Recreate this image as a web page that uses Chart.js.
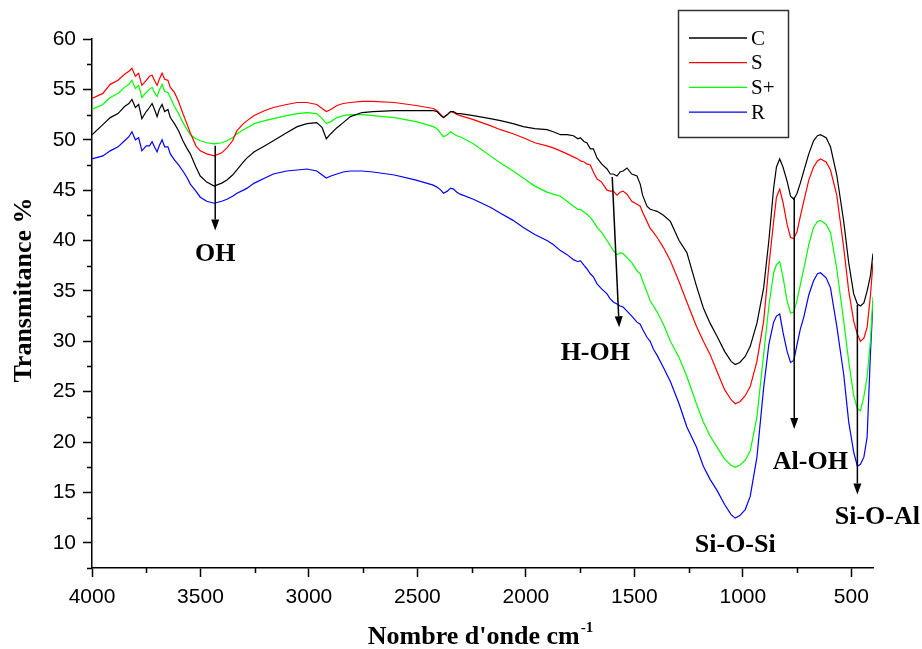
<!DOCTYPE html>
<html><head><meta charset="utf-8">
<script src="https://cdn.jsdelivr.net/npm/chart.js@4.4.0/dist/chart.umd.min.js"></script>
<style>html,body{margin:0;padding:0;background:#fff;}#wrap{width:922px;height:649px;}</style>
</head><body><div id="wrap"><canvas id="c" width="922" height="649"></canvas></div>
<script>
// ---- data ----
const wavenumbers = [4000,3950,3916,3880,3850,3830,3816,3800,3785,3770,3750,3735,3723,3710,3700,3690,3677,3665,3650,3639,3620,3601,3581,3561,3547,3521,3501,3471,3437,3402,3378,3352,3332,3302,3285,3252,3203,3164,3103,3054,3009,2964,2939,2920,2899,2871,2842,2809,2755,2705,2606,2506,2427,2410,2392,2380,2362,2347,2334,2318,2303,2242,2164,2117,2059,2012,1959,1903,1874,1841,1810,1781,1760,1749,1731,1719,1703,1689,1672,1651,1626,1611,1597,1580,1566,1552,1534,1512,1488,1473,1462,1442,1427,1412,1395,1366,1334,1294,1258,1214,1182,1151,1119,1084,1054,1035,1014,989,966,935,904,880,858,845,830,815,796,780,765,750,735,719,696,674,656,642,616,596,567,535,512,489,472,458,442,427,412,400];
const seriesC = [50.5,51.5,52.2,52.6,53.3,53.6,54.0,53.2,53.5,52.1,52.8,53.2,53.6,52.9,52.3,53.0,53.5,52.8,53.0,52.2,51.6,50.9,49.9,49.1,48.6,47.3,46.4,45.8,45.4,45.7,46.0,46.5,47.0,47.8,48.2,48.8,49.4,49.9,50.7,51.3,51.6,51.7,51.2,50.1,50.6,51.2,51.7,52.3,52.7,52.8,52.9,52.9,52.9,52.8,52.4,52.2,52.5,52.8,52.8,52.6,52.6,52.4,52.1,51.9,51.6,51.3,51.1,51.0,50.8,50.5,50.5,50.4,50.1,50.2,49.8,49.7,49.1,49.1,48.2,47.6,47.1,46.6,46.6,46.4,46.8,46.9,47.2,46.6,46.4,45.6,44.5,43.4,43.1,43.0,42.9,42.5,41.9,40.0,38.8,35.5,33.3,31.8,30.5,29.0,28.0,27.7,27.9,28.5,29.5,31.8,35.3,40.0,45.2,47.3,48.1,47.3,45.9,44.4,44.1,44.7,45.7,46.9,48.6,49.9,50.4,50.5,50.2,49.3,46.5,41.9,37.8,34.7,33.7,33.5,33.8,35.0,36.5,38.7];
const seriesS = [54.1,54.6,55.5,55.9,56.5,56.8,57.1,56.3,56.6,55.4,55.9,56.3,56.4,55.8,55.4,56.0,56.6,56.0,55.9,55.2,54.7,53.8,52.6,51.5,50.7,49.4,48.9,48.6,48.4,48.7,49.2,49.9,50.9,51.6,51.9,52.4,52.9,53.2,53.5,53.7,53.7,53.5,53.1,52.8,53.0,53.4,53.6,53.7,53.8,53.8,53.7,53.4,53.1,52.9,52.5,52.2,52.5,52.8,52.7,52.5,52.4,52.0,51.4,51.0,50.6,50.2,49.7,49.4,49.2,48.9,48.6,48.3,48.1,47.9,47.8,47.6,47.5,46.8,46.1,45.8,45.0,44.9,44.9,44.5,44.8,44.9,44.6,43.9,43.6,43.4,42.8,41.9,41.2,40.8,40.3,39.3,38.0,35.9,33.9,31.5,30.0,28.7,27.0,25.2,24.2,23.8,24.0,24.6,25.5,28.0,32.0,37.5,41.9,44.3,45.1,43.8,41.6,40.3,40.2,40.9,42.4,43.9,46.0,47.3,47.9,48.1,47.8,47.0,44.5,39.3,35.0,32.0,30.7,30.0,30.3,31.4,34.5,37.8];
const seriesSplus = [53.0,53.5,54.2,54.6,55.2,55.5,55.9,55.1,55.4,54.2,54.7,55.0,55.2,54.6,54.3,54.9,55.5,54.8,54.7,54.2,53.3,52.6,51.7,51.0,50.5,50.1,49.9,49.7,49.6,49.7,49.9,50.2,50.6,51.0,51.2,51.6,51.9,52.1,52.4,52.6,52.7,52.6,52.1,51.6,51.8,52.2,52.4,52.5,52.5,52.4,52.2,51.8,51.3,51.1,50.6,50.3,50.5,50.8,50.6,50.4,50.3,49.6,48.4,47.7,46.9,46.2,45.4,44.8,44.6,44.4,43.9,43.4,43.1,43.1,42.8,42.6,42.3,41.9,41.3,40.8,40.0,39.5,39.0,38.6,38.8,38.7,38.3,37.8,37.0,36.7,36.0,34.9,34.0,33.5,32.9,31.7,30.0,28.4,26.5,23.8,22.0,20.6,19.5,18.3,17.7,17.5,17.7,18.2,19.1,22.5,28.7,33.5,36.8,37.6,37.9,36.4,34.0,32.8,32.9,34.1,35.6,37.2,39.6,41.3,41.9,42.0,41.6,40.8,37.2,32.0,28.0,24.6,23.3,23.1,24.5,26.5,30.0,34.4];
const seriesR = [48.1,48.4,48.9,49.3,49.9,50.3,50.8,50.0,50.2,48.9,49.4,49.4,49.8,49.2,48.8,49.4,50.0,49.3,49.3,48.6,48.0,47.5,46.9,46.2,45.6,44.9,44.3,43.9,43.7,43.9,44.1,44.4,44.7,45.0,45.2,45.7,46.2,46.6,46.9,47.0,47.1,46.9,46.5,46.2,46.4,46.6,46.8,46.9,46.9,46.8,46.5,46.0,45.5,45.3,45.0,44.7,44.9,45.2,45.1,44.8,44.6,44.1,43.3,42.7,42.0,41.3,40.6,40.0,39.6,39.0,38.6,38.1,37.9,38.0,37.5,37.2,36.7,36.4,35.7,35.2,34.7,34.2,33.9,33.7,33.5,33.4,33.0,32.5,31.9,31.7,31.2,30.4,30.0,29.2,28.6,27.4,26.0,23.8,21.5,19.5,17.6,16.3,15.2,13.8,12.8,12.45,12.7,13.3,14.6,18.5,25.4,29.7,31.9,32.5,32.7,30.9,29.0,27.9,28.1,29.7,31.2,32.4,34.6,36.0,36.7,36.8,36.3,35.3,31.5,26.7,22.0,19.0,17.6,17.8,18.5,20.5,28.7,34.0];
const seriesNames = ['C','S','S+','R'];
const xTickLabels = [4000,3500,3000,2500,2000,1500,1000,500];
const yTickLabels = [10,15,20,25,30,35,40,45,50,55,60];
const xMinorTicks = [3750,3250,2750,2250,1750,1250,750];
const yMinorTicks = [7.5,12.5,17.5,22.5,27.5,32.5,37.5,42.5,47.5,52.5,57.5];
// band assignments: arrows (from -> to) and labels, in data units
const bandArrows = [[3432,49.4,3432,41.0],[1602,46.3,1570,31.4],[763,44.3,763,21.3],[472,33.6,472,14.8]];
const bandLabels = [['OH',3432,38.6],['H-OH',1680,28.85],['Al-OH',689,18.0],['Si-O-Si',1035,9.75],['Si-O-Al',380,12.55]];

// ---- chart ----
const colors = ['#000000','#ff0000','#00ff00','#0000ff'];
const allSeries = [seriesC, seriesS, seriesSplus, seriesR];
const datasets = allSeries.map((s,i)=>({
  label: seriesNames[i],
  data: wavenumbers.map((w,j)=>({x:w,y:s[j]})),
  borderColor: colors[i], borderWidth: 1.2, pointRadius: 0, tension: 0, fill: false
}));

const extras = {
  id: 'extras',
  afterDraw(chart){
    const ctx = chart.ctx, xs = chart.scales.x, ys = chart.scales.y;
    const ca = chart.chartArea;
    ctx.save();
    ctx.strokeStyle = '#000'; ctx.lineWidth = 1.5;
    // minor ticks
    ctx.beginPath();
    xMinorTicks.forEach(v=>{const px=Math.round(xs.getPixelForValue(v))+0.5; ctx.moveTo(px, ca.bottom); ctx.lineTo(px, ca.bottom+5);});
    yMinorTicks.forEach(v=>{const py=Math.round(ys.getPixelForValue(v))+0.5; ctx.moveTo(ca.left, py); ctx.lineTo(ca.left-5, py);});
    ctx.stroke();
    // arrows
    ctx.fillStyle = '#000'; ctx.lineWidth = 1.5;
    bandArrows.forEach(a=>{
      const x1=xs.getPixelForValue(a[0]), y1=ys.getPixelForValue(a[1]);
      const x2=xs.getPixelForValue(a[2]), y2=ys.getPixelForValue(a[3]);
      const ang=Math.atan2(y2-y1,x2-x1), L=11, W=4;
      const bx=x2-L*Math.cos(ang), by=y2-L*Math.sin(ang);
      ctx.beginPath(); ctx.moveTo(x1,y1); ctx.lineTo(bx,by); ctx.stroke();
      ctx.beginPath(); ctx.moveTo(x2,y2);
      ctx.lineTo(bx+W*Math.sin(ang), by-W*Math.cos(ang));
      ctx.lineTo(bx-W*Math.sin(ang), by+W*Math.cos(ang));
      ctx.closePath(); ctx.fill();
    });
    // labels
    ctx.font = 'bold 26px "Liberation Serif"'; ctx.textAlign='center'; ctx.textBaseline='middle';
    bandLabels.forEach(l=>{ ctx.fillText(l[0], xs.getPixelForValue(l[1]), ys.getPixelForValue(l[2])); });
    // y title
    ctx.save(); ctx.translate(24, 290); ctx.rotate(-Math.PI/2);
    ctx.fillText('Transmitance %', 0, 0); ctx.restore();
    // x title with superscript
    ctx.textAlign='left'; ctx.textBaseline='alphabetic';
    const main='Nombre d\'onde cm', sup='-1';
    ctx.font='bold 26px "Liberation Serif"'; const w1=ctx.measureText(main).width;
    ctx.font='bold 15px "Liberation Serif"'; const w2=ctx.measureText(sup).width;
    const sx = 480-(w1+w2)/2;
    ctx.font='bold 26px "Liberation Serif"'; ctx.fillText(main, sx, 644);
    ctx.font='bold 15px "Liberation Serif"'; ctx.fillText(sup, sx+w1+1, 632);
    // legend
    ctx.strokeStyle='#333'; ctx.lineWidth=1.5;
    ctx.strokeRect(678.5, 10.5, 110, 127);
    ctx.font='21px "Liberation Serif"'; ctx.textBaseline='middle';
    chart.data.datasets.forEach((d,i)=>{
      const y = 38 + i*24.7;
      ctx.strokeStyle=d.borderColor; ctx.lineWidth=1.3;
      ctx.beginPath(); ctx.moveTo(689,y); ctx.lineTo(747,y); ctx.stroke();
      ctx.fillStyle='#000'; ctx.fillText(d.label, 751, y+1);
    });
    ctx.restore();
  }
};

new Chart(document.getElementById('c'), {
  type: 'line',
  data: { datasets },
  options: {
    responsive: false, animation: false, devicePixelRatio: 1,
    layout: { padding: { top: 39, right: 49, left: 0, bottom: 0 } },
    plugins: { legend: { display: false }, tooltip: { enabled: false } },
    scales: {
      x: {
        type: 'linear', reverse: true, min: 400, max: 4000,
        afterBuildTicks: s => { s.ticks = xTickLabels.map(v=>({value:v})); },
        afterFit: s => { s.height = 81; },
        ticks: { font: { family: 'Liberation Sans', size: 21 }, color: '#000', padding: 8, maxRotation: 0, autoSkip: false, callback: v => String(v) },
        grid: { drawOnChartArea: false, tickLength: 9, tickWidth: 1.5, tickColor: '#000' },
        border: { color: '#000', width: 1.5 }
      },
      y: {
        min: 7.5, max: 60,
        afterBuildTicks: s => { s.ticks = yTickLabels.map(v=>({value:v})); },
        afterFit: s => { s.width = 92; },
        ticks: { font: { family: 'Liberation Sans', size: 21 }, color: '#000', padding: 7, autoSkip: false, callback: v => String(v) },
        grid: { drawOnChartArea: false, tickLength: 9, tickWidth: 1.5, tickColor: '#000' },
        border: { color: '#000', width: 1.5 }
      }
    }
  },
  plugins: [extras]
});
</script></body></html>
